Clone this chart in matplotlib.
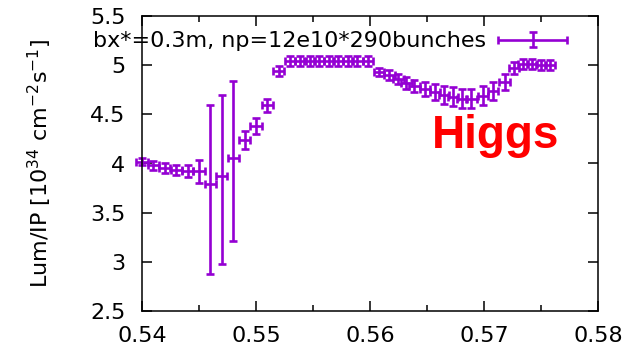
import numpy as np
import matplotlib

matplotlib.use("Agg")
import matplotlib.pyplot as plt
from matplotlib.ticker import FuncFormatter, MultipleLocator
from matplotlib.container import ErrorbarContainer
from matplotlib.legend_handler import HandlerErrorbar

plt.rcParams["font.family"] = ["DejaVu Sans"]

# -- data -----------------------------------------------------------------------
# left branch: regular 0.001 steps
x_left = [0.540, 0.541, 0.542, 0.543, 0.544, 0.545, 0.546,
          0.547, 0.548, 0.549, 0.550, 0.551, 0.552]
y_left = [4.02, 3.98, 3.95, 3.93, 3.92, 3.92, 3.79,
          3.87, 4.06, 4.24, 4.38, 4.59, 4.94]
ylo_left = [0.04, 0.05, 0.05, 0.05, 0.06, 0.12, 0.91,
            0.89, 0.85, 0.09, 0.08, 0.07, 0.05]
yhi_left = [0.04, 0.05, 0.05, 0.05, 0.06, 0.12, 0.81,
            0.83, 0.78, 0.09, 0.08, 0.07, 0.05]

# right branch
x_right = [0.5530, 0.5539, 0.5547, 0.5555, 0.5564, 0.5572, 0.5581,
           0.5589, 0.5598, 0.5608, 0.5617, 0.5625, 0.5632, 0.5639,
           0.5648, 0.5657, 0.5665, 0.5673, 0.5681, 0.5689, 0.5699,
           0.5708, 0.5718, 0.5726, 0.5734, 0.5742, 0.5750, 0.5758]
y_right = [5.04, 5.04, 5.04, 5.04, 5.04, 5.04, 5.04,
           5.04, 5.04, 4.93, 4.90, 4.86, 4.82, 4.79,
           4.76, 4.73, 4.70, 4.68, 4.66, 4.66, 4.69,
           4.74, 4.83, 4.97, 5.01, 5.01, 5.00, 5.00]
yerr_right = [0.05, 0.05, 0.05, 0.05, 0.05, 0.05, 0.05,
              0.05, 0.05, 0.04, 0.05, 0.05, 0.06, 0.06,
              0.07, 0.08, 0.09, 0.10, 0.10, 0.10, 0.10,
              0.09, 0.08, 0.06, 0.05, 0.05, 0.05, 0.05]

x = np.array(x_left + x_right)
y = np.array(y_left + y_right)
ylo = np.array(ylo_left + yerr_right)
yhi = np.array(yhi_left + yerr_right)
xerr = np.array([0.0005] * len(x_left) + [0.00045] * len(x_right))

label = "bx*=0.3m, np=12e10*290bunches"
PURPLE = "#9400d3"
FS = 16

# -- figure ----------------------------------------------------------------------
fig = plt.figure(figsize=(6.28, 3.51), dpi=100)
ax = fig.add_axes([142 / 628, 1 - 311 / 351, 456 / 628, 295 / 351])

ax.errorbar(x, y, yerr=[ylo, yhi], xerr=xerr, fmt="none", ecolor=PURPLE,
            elinewidth=1.9, capsize=2.8, capthick=1.9, label=label,
            clip_on=False)

ax.set_xlim(0.54, 0.58)
ax.set_ylim(2.5, 5.5)
ax.xaxis.set_major_locator(MultipleLocator(0.01))
ax.xaxis.set_minor_locator(MultipleLocator(0.005))
ax.yaxis.set_major_locator(MultipleLocator(0.5))
fmt = FuncFormatter(lambda v, p: f"{v:g}")
ax.xaxis.set_major_formatter(fmt)
ax.yaxis.set_major_formatter(fmt)
ax.tick_params(which="both", direction="in", top=True, right=True,
               labelsize=FS, width=1.1)
ax.tick_params(axis="x", pad=11)
ax.tick_params(axis="y", pad=12)
ax.tick_params(which="major", length=7)
ax.tick_params(which="minor", length=4.5)
for s in ax.spines.values():
    s.set_linewidth(1.1)

ax.set_ylabel("Lum/IP [10$^{34}$ cm$^{-2}$s$^{-1}$]", fontsize=FS)
ax.yaxis.set_label_coords(-0.192, 0.5)

ax.text(0.5654, 4.16, "Higgs", color="red", fontsize=33, fontweight="bold",
        family="Liberation Sans")

ax.legend(loc="upper right", bbox_to_anchor=(0.945, 0.955), frameon=False,
          markerfirst=False, fontsize=FS, handlelength=3.4,
          borderaxespad=0.0, borderpad=0.1, handletextpad=0.4,
          handler_map={ErrorbarContainer: HandlerErrorbar(xerr_size=1.55,
                                                          yerr_size=0.35)})

fig.savefig("out.png", dpi=100)
